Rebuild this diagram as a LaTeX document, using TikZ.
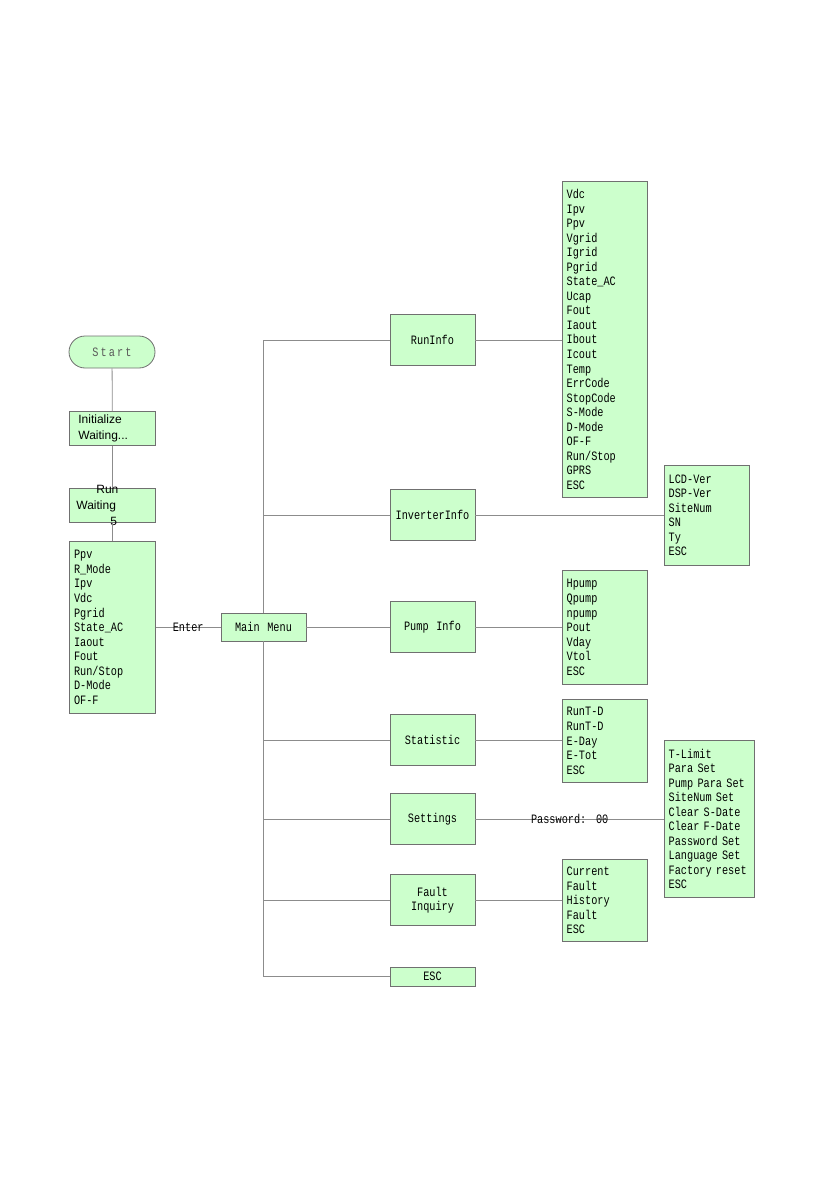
\documentclass[tikz,border=0pt]{standalone}
\usepackage{fontspec}
\setmainfont{Liberation Sans}
\newfontfamily\monof[FakeStretch=0.8, WordSpace={1.25,0,0}]{Liberation Mono}
\definecolor{boxfill}{HTML}{CCFFCC}
\definecolor{boxline}{HTML}{707070}
\definecolor{wirec}{HTML}{8C8C8C}
\begin{document}
\begin{tikzpicture}[x=0.75pt,y=-0.75pt,
  box/.style={draw=boxline, fill=boxfill, line width=0.6pt, inner sep=0pt,
    font=\monof\fontsize{9.6}{10.9}\selectfont},
  menu/.style={box, minimum width=63.75pt, minimum height=38.25pt, align=center},
  lst/.style={box, anchor=north west, inner xsep=3.2pt, align=left},
  armt/.style={box, font=\fontsize{9}{12.5}\selectfont, minimum width=64.5pt, minimum height=25.5pt, anchor=north west},
  wire/.style={draw=wirec, line width=0.6pt},
  lbl/.style={font=\monof\fontsize{9.6}{10.9}\selectfont, inner sep=1pt}]
\useasboundingbox (0,0) rectangle (839,1191);

% left column
\node[box, rounded corners=12pt, minimum width=64.5pt, minimum height=24pt, text=black!65] (start) at (112,352) {S\,t\,a\,r\,t};
\node[armt, text width=51pt, align=left, inner xsep=6.75pt] (init) at (69,411) {Initialize\\Waiting...};
\node[armt, text width=54pt, align=left, inner xsep=4pt, inner ysep=-4.5pt] (run) at (69,488) {\hspace*{15pt}Run\\[-1pt]Waiting\\[-0.5pt]\hspace*{25.5pt}5};
\node[lst, text width=57.5pt, minimum height=129pt, inner xsep=3.5pt] (par) at (69,541) {Ppv\\R\_Mode\\Ipv\\Vdc\\Pgrid\\State\_AC\\Iaout\\Fout\\Run/Stop\\D-Mode\\OF-F};

% main menu
\node[box, minimum width=63.75pt, minimum height=21pt] (mm) at (263.5,627) {Main Menu};

% menu items
\node[menu] (runinfo) at (432.5,340) {RunInfo};
\node[menu] (inv) at (432.5,515) {InverterInfo};
\node[menu] (pump) at (432.5,627) {Pump Info};
\node[menu] (stat) at (432.5,740) {Statistic};
\node[menu] (set) at (432.5,819) {Settings};
\node[menu] (fault) at (432.5,900) {Fault\\Inquiry};
\node[box, minimum width=63.75pt, minimum height=14.25pt] (esc) at (432.5,976.5) {ESC};

% sub lists
\node[lst, text width=57.35pt, minimum height=237pt] (runl) at (562,181) {Vdc\\Ipv\\Ppv\\Vgrid\\Igrid\\Pgrid\\State\_AC\\Ucap\\Fout\\Iaout\\Ibout\\Icout\\Temp\\ErrCode\\StopCode\\S-Mode\\D-Mode\\OF-F\\Run/Stop\\GPRS\\ESC};
\node[lst, text width=57.35pt, minimum height=75pt] (invl) at (664,465) {LCD-Ver\\DSP-Ver\\SiteNum\\SN\\Ty\\ESC};
\node[lst, text width=57.35pt, minimum height=85.5pt] (pumpl) at (562,570) {Hpump\\Qpump\\npump\\Pout\\Vday\\Vtol\\ESC};
\node[lst, text width=57.35pt, minimum height=62.25pt] (statl) at (562,699) {RunT-D\\RunT-D\\E-Day\\E-Tot\\ESC};
\node[lst, text width=61.1pt, minimum height=117.75pt] (setl) at (664,740) {T-Limit\\Para Set\\Pump Para Set\\SiteNum Set\\Clear S-Date\\Clear F-Date\\Password Set\\Language Set\\Factory reset\\ESC};
\node[lst, text width=57.35pt, minimum height=61.5pt] (faultl) at (562,859) {Current\\Fault\\History\\Fault\\ESC};

% connectors left column
\draw[wire] (start) -- (init);
\draw[wire] (init) -- (run);
\draw[wire] (run) -- (par);
\draw[wire] (par.east |- mm.west) -- node[lbl] {Enter} (mm.west);

% trunk
\draw[wire] (mm.north) |- (runinfo.west);
\draw[wire] (mm.south) |- (esc.west);
\draw[wire] (mm.east) -- (pump.west);
\draw[wire] (inv.west -| mm.north) -- (inv.west);
\draw[wire] (stat.west -| mm.north) -- (stat.west);
\draw[wire] (set.west -| mm.north) -- (set.west);
\draw[wire] (fault.west -| mm.north) -- (fault.west);

% to sub lists
\draw[wire] (runinfo.east) -- (runinfo.east -| runl.west);
\draw[wire] (inv.east) -- (inv.east -| invl.west);
\draw[wire] (pump.east) -- (pump.east -| pumpl.west);
\draw[wire] (stat.east) -- (stat.east -| statl.west);
\draw[wire] (set.east) -- node[lbl, pos=0.5] {Password: 00} (set.east -| setl.west);
\draw[wire] (fault.east) -- (fault.east -| faultl.west);
\end{tikzpicture}
\end{document}
